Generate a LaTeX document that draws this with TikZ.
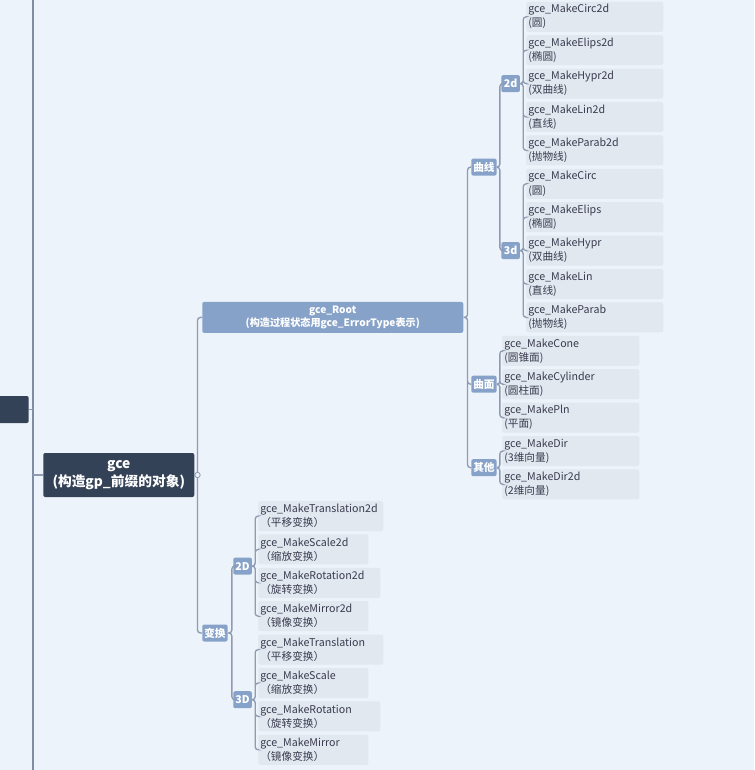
\documentclass[tikz,border=0pt]{standalone}
\usepackage{fontspec}
\setmainfont{Noto Sans CJK SC}

\definecolor{bgc}{HTML}{ECF3FA}
\definecolor{darkc}{HTML}{344258}
\definecolor{bluec}{HTML}{87A2C8}
\definecolor{leafc}{HTML}{E1E8F0}
\definecolor{linec}{HTML}{8F9BB0}
\definecolor{spinec}{HTML}{7E8CA4}
\definecolor{textc}{HTML}{3A3B4E}

\begin{document}
\begin{tikzpicture}[x=0.75pt, y=-0.75pt,
  dark/.style={fill=darkc, text=white, rounded corners=1.5pt, align=center, inner sep=0pt,
    font=\bfseries\fontsize{10.3}{13}\selectfont},
  topic/.style={fill=bluec, text=white, rounded corners=1.5pt, align=center, inner sep=0pt,
    font=\bfseries\fontsize{7.6}{9.75}\selectfont},
  tag/.style={fill=bluec, text=white, rounded corners=1.5pt, anchor=west,
    inner xsep=1.5pt, inner ysep=0pt, minimum height=12.75pt, minimum width=14pt,
    font=\bfseries\fontsize{8}{9}\selectfont},
  leaf/.style={fill=leafc, text=textc, rounded corners=1.5pt, anchor=west, align=left,
    inner xsep=1.5pt, inner ysep=0pt, minimum height=22.5pt, text width=#1,
    font=\fontsize{8}{10.5}\selectfont},
  leaf/.default=99.75pt,
  link/.style={draw=linec, line width=1pt, rounded corners=2.25pt},
  spine/.style={draw=spinec, line width=1.5pt},
  knob/.style={circle, draw=linec, fill=bgc, line width=0.6pt, inner sep=0pt, minimum size=4pt}]

  \fill[bgc, use as bounding box] (0,0) rectangle (754,770);
  \clip (0,0) rectangle (754,770);

  % root of this branch
  \coordinate (top) at (33,0);
  \coordinate (bot) at (33,770);
  \node[dark, anchor=east, minimum width=45pt, minimum height=20.25pt] (prev) at (29,409.5) {};
  \node[dark, anchor=west, minimum width=113.25pt, minimum height=33pt] (gce) at (43,475)
    {gce\\(构造gp\_前缀的对象)};
  \node[topic, anchor=west, minimum width=195.75pt, minimum height=23.25pt] (root) at (202,317.4)
    {gce\_Root\\(构造过程状态用gce\_ErrorType表示)};
  \node[tag] (bh) at (202,633) {变换};

  % curves, surfaces, others
  \node[tag] (qx) at (471,167.1) {曲线};
  \node[tag] (qm) at (471,384.2) {曲面};
  \node[tag] (qt) at (471,467.7) {其他};
  \node[tag] (d2) at (501,83.6)  {2d};
  \node[tag] (d3) at (501,250.6) {3d};

  \node[leaf] (circ2d)  at (526,16.8)  {gce\_MakeCirc2d\\(圆)};
  \node[leaf] (elips2d) at (526,50.2)  {gce\_MakeElips2d\\(椭圆)};
  \node[leaf] (hypr2d)  at (526,83.6)  {gce\_MakeHypr2d\\(双曲线)};
  \node[leaf] (lin2d)   at (526,117)   {gce\_MakeLin2d\\(直线)};
  \node[leaf] (parab2d) at (526,150.4) {gce\_MakeParab2d\\(抛物线)};
  \node[leaf] (circ)    at (526,183.8) {gce\_MakeCirc\\(圆)};
  \node[leaf] (elips)   at (526,217.2) {gce\_MakeElips\\(椭圆)};
  \node[leaf] (hypr)    at (526,250.6) {gce\_MakeHypr\\(双曲线)};
  \node[leaf] (lin)     at (526,284)   {gce\_MakeLin\\(直线)};
  \node[leaf] (parab)   at (526,317.4) {gce\_MakeParab\\(抛物线)};
  \node[leaf] (cone)    at (502,350.8) {gce\_MakeCone\\(圆锥面)};
  \node[leaf] (cyl)     at (502,384.2) {gce\_MakeCylinder\\(圆柱面)};
  \node[leaf] (pln)     at (502,417.6) {gce\_MakePln\\(平面)};
  \node[leaf] (dir)     at (502,451)   {gce\_MakeDir\\(3维向量)};
  \node[leaf] (dir2d)   at (502,484.4) {gce\_MakeDir2d\\(2维向量)};

  % transformations
  \node[tag] (t2) at (233,566.1) {2D};
  \node[tag] (t3) at (233,699.7) {3D};

  \node[leaf=90.75pt] (trans2d) at (258,516)   {gce\_MakeTranslation2d\\（平移变换）};
  \node[leaf=79.5pt]  (scale2d) at (258,549.4) {gce\_MakeScale2d\\（缩放变换）};
  \node[leaf=88.5pt]  (rot2d)   at (258,582.8) {gce\_MakeRotation2d\\（旋转变换）};
  \node[leaf=79.5pt]  (mir2d)   at (258,616.2) {gce\_MakeMirror2d\\（镜像变换）};
  \node[leaf=90.75pt] (trans)   at (258,649.6) {gce\_MakeTranslation\\（平移变换）};
  \node[leaf=79.5pt]  (scale)   at (258,683)   {gce\_MakeScale\\（缩放变换）};
  \node[leaf=88.5pt]  (rot)     at (258,716.4) {gce\_MakeRotation\\（旋转变换）};
  \node[leaf=79.5pt]  (mir)     at (258,749.8) {gce\_MakeMirror\\（镜像变换）};

  % connectors
  \draw[spine] (top) -- (bot);
  \draw[link] (prev.east) -- (prev.east -| top)
              (gce.west -| top) -- (gce.west);
  \draw[link] (gce.east) -- ++(3,0) |- (root.west)
              (gce.east) -- ++(3,0) |- (bh.west);
  \draw[link] (root.east) -- ++(4,0) |- (qx.west)
              (root.east) -- ++(4,0) |- (qm.west)
              (root.east) -- ++(4,0) |- (qt.west);
  \draw[link] (qx.east) -- ++(3,0) |- (d2.west)
              (qx.east) -- ++(3,0) |- (d3.west);
  \draw[link] (d2.east) -- ++(3,0) |- (circ2d.west)
              (d2.east) -- ++(3,0) |- (elips2d.west)
              (d2.east) -- ++(3,0) |- (hypr2d.west)
              (d2.east) -- ++(3,0) |- (lin2d.west)
              (d2.east) -- ++(3,0) |- (parab2d.west);
  \draw[link] (d3.east) -- ++(3,0) |- (circ.west)
              (d3.east) -- ++(3,0) |- (elips.west)
              (d3.east) -- ++(3,0) |- (hypr.west)
              (d3.east) -- ++(3,0) |- (lin.west)
              (d3.east) -- ++(3,0) |- (parab.west);
  \draw[link] (qm.east) -- ++(3,0) |- (cone.west)
              (qm.east) -- ++(3,0) |- (cyl.west)
              (qm.east) -- ++(3,0) |- (pln.west);
  \draw[link] (qt.east) -- ++(3,0) |- (dir.west)
              (qt.east) -- ++(3,0) |- (dir2d.west);
  \draw[link] (bh.east) -- ++(4,0) |- (t2.west)
              (bh.east) -- ++(4,0) |- (t3.west);
  \draw[link] (t2.east) -- ++(3,0) |- (trans2d.west)
              (t2.east) -- ++(3,0) |- (scale2d.west)
              (t2.east) -- ++(3,0) |- (rot2d.west)
              (t2.east) -- ++(3,0) |- (mir2d.west);
  \draw[link] (t3.east) -- ++(3,0) |- (trans.west)
              (t3.east) -- ++(3,0) |- (scale.west)
              (t3.east) -- ++(3,0) |- (rot.west)
              (t3.east) -- ++(3,0) |- (mir.west);
  \node[knob, xshift=2.25pt] (fold) at (gce.east) {};
\end{tikzpicture}
\end{document}
